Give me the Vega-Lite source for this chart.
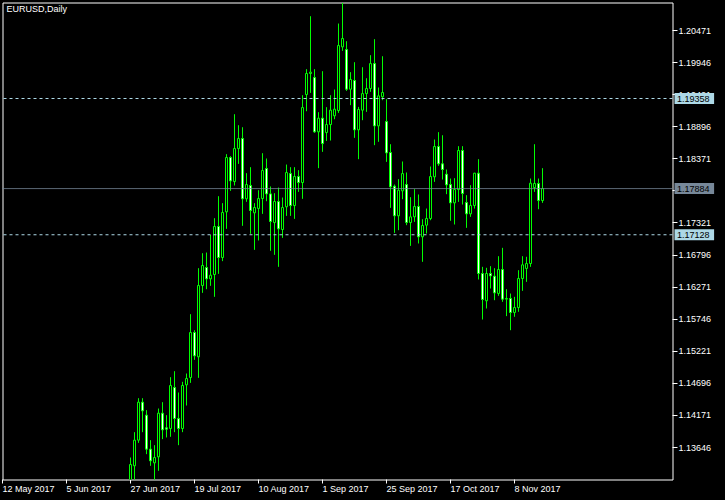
{
"$schema": "https://vega.github.io/schema/vega-lite/v6.json",
"width": 670, "height": 477,
"autosize": {"type": "none"},
"padding": {"left": 2.5, "top": 2.5, "right": 52.5, "bottom": 20.5},
"background": "black",
"title": {"text": "EURUSD,Daily", "anchor": "start", "frame": "group", "orient": "top", "offset": 0, "dy": 18, "baseline": "alphabetic", "dx": 4, "color": "white", "font": "Liberation Sans", "fontSize": 9, "fontWeight": "normal"},
"config": {
  "view": {"stroke": "white", "strokeWidth": 1},
  "scale": {"continuousPadding": 0},
  "axis": {"domain": false, "grid": false, "labelColor": "white", "tickColor": "white", "labelFont": "Liberation Sans", "labelFontSize": 9, "translate": 0, "labelOverlap": false, "labelBound": false, "labelFlush": false, "title": null}
},
"resolve": {"axis": {"x": "independent", "y": "independent"}},
"datasets": {
"candles": [
{"date":"2017-06-27","i":32,"o":1.11830,"h":1.13482,"l":1.11680,"c":1.13368},
{"date":"2017-06-28","i":33,"o":1.13346,"h":1.13897,"l":1.13120,"c":1.13766},
{"date":"2017-06-29","i":34,"o":1.13766,"h":1.14453,"l":1.13722,"c":1.14388},
{"date":"2017-06-30","i":35,"o":1.14388,"h":1.14453,"l":1.13897,"c":1.14246},
{"date":"2017-07-03","i":36,"o":1.14175,"h":1.14257,"l":1.13537,"c":1.13619},
{"date":"2017-07-04","i":37,"o":1.13619,"h":1.13766,"l":1.13346,"c":1.13428},
{"date":"2017-07-05","i":38,"o":1.13395,"h":1.13684,"l":1.13100,"c":1.13482},
{"date":"2017-07-06","i":39,"o":1.13493,"h":1.14284,"l":1.13264,"c":1.14208},
{"date":"2017-07-07","i":40,"o":1.14208,"h":1.14388,"l":1.13783,"c":1.13935},
{"date":"2017-07-10","i":41,"o":1.13968,"h":1.14175,"l":1.13810,"c":1.13946},
{"date":"2017-07-11","i":42,"o":1.13957,"h":1.14797,"l":1.13821,"c":1.14661},
{"date":"2017-07-12","i":43,"o":1.14628,"h":1.14895,"l":1.13897,"c":1.14121},
{"date":"2017-07-13","i":44,"o":1.14121,"h":1.14546,"l":1.13684,"c":1.13957},
{"date":"2017-07-14","i":45,"o":1.13957,"h":1.14721,"l":1.13897,"c":1.14661},
{"date":"2017-07-17","i":46,"o":1.14672,"h":1.14857,"l":1.14333,"c":1.14775},
{"date":"2017-07-18","i":47,"o":1.14791,"h":1.15828,"l":1.14704,"c":1.15528},
{"date":"2017-07-19","i":48,"o":1.15528,"h":1.15566,"l":1.15081,"c":1.15146},
{"date":"2017-07-20","i":49,"o":1.15130,"h":1.16581,"l":1.14786,"c":1.16297},
{"date":"2017-07-21","i":50,"o":1.16297,"h":1.16826,"l":1.16177,"c":1.16625},
{"date":"2017-07-24","i":51,"o":1.16592,"h":1.16837,"l":1.16237,"c":1.16406},
{"date":"2017-07-25","i":52,"o":1.16406,"h":1.17126,"l":1.16292,"c":1.16466},
{"date":"2017-07-26","i":53,"o":1.16477,"h":1.17399,"l":1.16112,"c":1.17263},
{"date":"2017-07-27","i":54,"o":1.17263,"h":1.17759,"l":1.16488,"c":1.16756},
{"date":"2017-07-28","i":55,"o":1.16756,"h":1.17645,"l":1.16696,"c":1.17492},
{"date":"2017-07-31","i":56,"o":1.17503,"h":1.18447,"l":1.17225,"c":1.18392},
{"date":"2017-08-01","i":57,"o":1.18392,"h":1.18414,"l":1.17847,"c":1.18010},
{"date":"2017-08-02","i":58,"o":1.17999,"h":1.19101,"l":1.17934,"c":1.18539},
{"date":"2017-08-03","i":59,"o":1.18539,"h":1.18921,"l":1.18288,"c":1.18703},
{"date":"2017-08-04","i":60,"o":1.18703,"h":1.18888,"l":1.17274,"c":1.17716},
{"date":"2017-08-07","i":61,"o":1.17716,"h":1.18136,"l":1.17667,"c":1.17950},
{"date":"2017-08-08","i":62,"o":1.17934,"h":1.18234,"l":1.17143,"c":1.17525},
{"date":"2017-08-09","i":63,"o":1.17487,"h":1.17645,"l":1.16881,"c":1.17574},
{"date":"2017-08-10","i":64,"o":1.17558,"h":1.17857,"l":1.17034,"c":1.17721},
{"date":"2017-08-11","i":65,"o":1.17721,"h":1.18463,"l":1.17470,"c":1.18179},
{"date":"2017-08-14","i":66,"o":1.18212,"h":1.18376,"l":1.17677,"c":1.17797},
{"date":"2017-08-15","i":67,"o":1.17797,"h":1.17918,"l":1.16865,"c":1.17345},
{"date":"2017-08-16","i":68,"o":1.17328,"h":1.17808,"l":1.16799,"c":1.17672},
{"date":"2017-08-17","i":69,"o":1.17672,"h":1.17901,"l":1.16603,"c":1.17225},
{"date":"2017-08-18","i":70,"o":1.17214,"h":1.17737,"l":1.17077,"c":1.17574},
{"date":"2017-08-21","i":71,"o":1.17585,"h":1.18277,"l":1.17437,"c":1.18146},
{"date":"2017-08-22","i":72,"o":1.18130,"h":1.18234,"l":1.17437,"c":1.17606},
{"date":"2017-08-23","i":73,"o":1.17606,"h":1.18234,"l":1.17388,"c":1.18081},
{"date":"2017-08-24","i":74,"o":1.18081,"h":1.18185,"l":1.17830,"c":1.17983},
{"date":"2017-08-25","i":75,"o":1.17983,"h":1.19412,"l":1.17716,"c":1.19210},
{"date":"2017-08-28","i":76,"o":1.19423,"h":1.19838,"l":1.19150,"c":1.19767},
{"date":"2017-08-29","i":77,"o":1.19767,"h":1.20705,"l":1.19450,"c":1.19789},
{"date":"2017-08-30","i":78,"o":1.19701,"h":1.19838,"l":1.18796,"c":1.18812},
{"date":"2017-08-31","i":79,"o":1.18812,"h":1.19134,"l":1.18218,"c":1.19036},
{"date":"2017-09-01","i":80,"o":1.19036,"h":1.19805,"l":1.18485,"c":1.18621},
{"date":"2017-09-04","i":81,"o":1.18801,"h":1.19216,"l":1.18664,"c":1.18932},
{"date":"2017-09-05","i":82,"o":1.18932,"h":1.19412,"l":1.18670,"c":1.19167},
{"date":"2017-09-06","i":83,"o":1.19074,"h":1.19505,"l":1.19019,"c":1.19183},
{"date":"2017-09-07","i":84,"o":1.19161,"h":1.20585,"l":1.19123,"c":1.20225},
{"date":"2017-09-08","i":85,"o":1.20203,"h":1.20923,"l":1.20138,"c":1.20340},
{"date":"2017-09-11","i":86,"o":1.20160,"h":1.20296,"l":1.19483,"c":1.19510},
{"date":"2017-09-12","i":87,"o":1.19510,"h":1.19789,"l":1.19249,"c":1.19669},
{"date":"2017-09-13","i":88,"o":1.19652,"h":1.19952,"l":1.18714,"c":1.18845},
{"date":"2017-09-14","i":89,"o":1.18845,"h":1.19221,"l":1.18365,"c":1.19178},
{"date":"2017-09-15","i":90,"o":1.19167,"h":1.19870,"l":1.19003,"c":1.19439},
{"date":"2017-09-18","i":91,"o":1.19439,"h":1.19690,"l":1.19139,"c":1.19521},
{"date":"2017-09-19","i":92,"o":1.19521,"h":1.20067,"l":1.19467,"c":1.19930},
{"date":"2017-09-20","i":93,"o":1.19930,"h":1.20329,"l":1.18594,"c":1.18910},
{"date":"2017-09-21","i":94,"o":1.18910,"h":1.19538,"l":1.18649,"c":1.19401},
{"date":"2017-09-22","i":95,"o":1.19385,"h":1.20050,"l":1.19330,"c":1.19456},
{"date":"2017-09-25","i":96,"o":1.18981,"h":1.19347,"l":1.18321,"c":1.18468},
{"date":"2017-09-26","i":97,"o":1.18474,"h":1.18610,"l":1.17568,"c":1.17912},
{"date":"2017-09-27","i":98,"o":1.17923,"h":1.17950,"l":1.17159,"c":1.17438},
{"date":"2017-09-28","i":99,"o":1.17438,"h":1.18038,"l":1.17203,"c":1.17857},
{"date":"2017-09-29","i":100,"o":1.17846,"h":1.18327,"l":1.17710,"c":1.18130},
{"date":"2017-10-02","i":101,"o":1.17950,"h":1.18147,"l":1.17285,"c":1.17328},
{"date":"2017-10-03","i":102,"o":1.17328,"h":1.17743,"l":1.16946,"c":1.17421},
{"date":"2017-10-04","i":103,"o":1.17421,"h":1.17874,"l":1.17339,"c":1.17590},
{"date":"2017-10-05","i":104,"o":1.17590,"h":1.17787,"l":1.16985,"c":1.17094},
{"date":"2017-10-06","i":105,"o":1.17094,"h":1.17383,"l":1.16685,"c":1.17279},
{"date":"2017-10-09","i":106,"o":1.17285,"h":1.17557,"l":1.17148,"c":1.17394},
{"date":"2017-10-10","i":107,"o":1.17394,"h":1.18245,"l":1.17366,"c":1.18081},
{"date":"2017-10-11","i":108,"o":1.18076,"h":1.18687,"l":1.17994,"c":1.18572},
{"date":"2017-10-12","i":109,"o":1.18572,"h":1.18807,"l":1.18256,"c":1.18289},
{"date":"2017-10-13","i":110,"o":1.18289,"h":1.18757,"l":1.18032,"c":1.18196},
{"date":"2017-10-16","i":111,"o":1.18119,"h":1.18196,"l":1.17792,"c":1.17945},
{"date":"2017-10-17","i":112,"o":1.17950,"h":1.18048,"l":1.17356,"c":1.17650},
{"date":"2017-10-18","i":113,"o":1.17650,"h":1.18054,"l":1.17296,"c":1.17868},
{"date":"2017-10-19","i":114,"o":1.17868,"h":1.18578,"l":1.17666,"c":1.18507},
{"date":"2017-10-20","i":115,"o":1.18507,"h":1.18578,"l":1.17623,"c":1.17803},
{"date":"2017-10-23","i":116,"o":1.17656,"h":1.17776,"l":1.17241,"c":1.17470},
{"date":"2017-10-24","i":117,"o":1.17470,"h":1.17939,"l":1.17421,"c":1.17607},
{"date":"2017-10-25","i":118,"o":1.17607,"h":1.18141,"l":1.17557,"c":1.18136},
{"date":"2017-10-26","i":119,"o":1.18136,"h":1.18365,"l":1.16396,"c":1.16494},
{"date":"2017-10-27","i":120,"o":1.16494,"h":1.16603,"l":1.15741,"c":1.16069},
{"date":"2017-10-30","i":121,"o":1.16047,"h":1.16587,"l":1.15921,"c":1.16494},
{"date":"2017-10-31","i":122,"o":1.16494,"h":1.16614,"l":1.16248,"c":1.16455},
{"date":"2017-11-01","i":123,"o":1.16450,"h":1.16581,"l":1.16057,"c":1.16177},
{"date":"2017-11-02","i":124,"o":1.16167,"h":1.16777,"l":1.16128,"c":1.16559},
{"date":"2017-11-03","i":125,"o":1.16559,"h":1.16914,"l":1.16030,"c":1.16074},
{"date":"2017-11-06","i":126,"o":1.16074,"h":1.16237,"l":1.15796,"c":1.16085},
{"date":"2017-11-07","i":127,"o":1.16085,"h":1.16166,"l":1.15566,"c":1.15856},
{"date":"2017-11-08","i":128,"o":1.15856,"h":1.16112,"l":1.15785,"c":1.15937},
{"date":"2017-11-09","i":129,"o":1.15937,"h":1.16548,"l":1.15867,"c":1.16412},
{"date":"2017-11-10","i":130,"o":1.16412,"h":1.16777,"l":1.16210,"c":1.16636},
{"date":"2017-11-13","i":131,"o":1.16576,"h":1.16767,"l":1.16357,"c":1.16657},
{"date":"2017-11-14","i":132,"o":1.16657,"h":1.18048,"l":1.16603,"c":1.17972},
{"date":"2017-11-15","i":133,"o":1.17901,"h":1.18610,"l":1.17830,"c":1.17967},
{"date":"2017-11-16","i":134,"o":1.17967,"h":1.18048,"l":1.17546,"c":1.17688},
{"date":"2017-11-17","i":135,"o":1.17688,"h":1.18218,"l":1.17650,"c":1.17884}
],
"levels": [
{"v": 1.19358, "kind": "level"},
{"v": 1.17884, "kind": "bid"},
{"v": 1.17128, "kind": "level"}
]
},
"layer": [
{
  "data": {"name": "candles"},
  "mark": {"type": "rule", "color": "#00ff00", "strokeWidth": 1, "clip": true},
  "encoding": {
    "x": {"field": "i", "type": "quantitative",
      "scale": {"domain": [0, 167.5], "nice": false, "zero": false, "padding": 0},
      "axis": {"orient": "bottom", "title": null, "values": [0,16,32,48,64,80,96,112,128], "tickSize": 4, "labelAlign": "left", "labelBaseline": "top", "labelPadding": 1, "labelFlush": false, "labelOverlap": false, "labelBound": false,
        "labelExpr": "['12 May 2017','5 Jun 2017','27 Jun 2017','19 Jul 2017','10 Aug 2017','1 Sep 2017','25 Sep 2017','17 Oct 2017','8 Nov 2017'][round(datum.value/16)]"}},
    "y": {"field": "l", "type": "quantitative",
      "scale": {"domain": [1.131223, 1.209293], "nice": false, "zero": false, "padding": 0},
      "axis": {"orient": "right", "title": null, "values": [1.13646,1.14171,1.14696,1.15221,1.15746,1.16271,1.16796,1.17321,1.17846,1.18371,1.18896,1.19421,1.19946,1.20471], "format": ".5f", "tickSize": 5, "labelPadding": 1, "labelAlign": "left", "labelBaseline": "middle", "labelOverlap": false, "labelFlush": false, "labelBound": false}},
    "y2": {"field": "h"}
  }
},
{
  "data": {"name": "candles"},
  "mark": {"type": "bar", "size": 2, "stroke": "#00ff00", "strokeWidth": 1, "clip": true, "orient": "vertical"},
  "encoding": {
    "x": {"field": "i", "type": "quantitative", "scale": {"domain": [0, 167.5], "nice": false, "zero": false, "padding": 0}, "axis": null},
    "y": {"field": "o", "type": "quantitative", "scale": {"domain": [1.131223, 1.209293], "nice": false, "zero": false, "padding": 0}, "axis": null},
    "y2": {"field": "c"},
    "fill": {"condition": {"test": "datum.c < datum.o", "value": "white"}, "value": "black"}
  }
},
{
  "data": {"name": "levels"},
  "mark": {"type": "rule", "strokeWidth": 1},
  "encoding": {
    "y": {"field": "v", "type": "quantitative", "scale": {"domain": [1.131223, 1.209293], "nice": false, "zero": false, "padding": 0}, "axis": null},
    "color": {"field": "kind", "type": "nominal", "scale": {"domain": ["level", "bid"], "range": ["#add8e6", "#778899"]}, "legend": null},
    "strokeDash": {"field": "kind", "type": "nominal", "scale": {"domain": ["level", "bid"], "range": [[3, 3], [1, 0]]}, "legend": null}
  }
},
{
  "data": {"name": "levels"},
  "mark": {"type": "bar", "size": 11, "orient": "horizontal"},
  "encoding": {
    "x": {"datum": 168, "type": "quantitative", "scale": {"domain": [0, 167.5], "nice": false, "zero": false, "padding": 0}, "axis": null},
    "x2": {"datum": 177.9},
    "y": {"field": "v", "type": "quantitative", "scale": {"domain": [1.131223, 1.209293], "nice": false, "zero": false, "padding": 0}, "axis": null},
    "color": {"field": "kind", "type": "nominal", "legend": null}
  }
},
{
  "data": {"name": "levels"},
  "mark": {"type": "text", "align": "left", "baseline": "middle", "color": "black", "font": "Liberation Sans", "fontSize": 9, "dy": 0.5},
  "encoding": {
    "x": {"datum": 168.6, "type": "quantitative", "scale": {"domain": [0, 167.5], "nice": false, "zero": false, "padding": 0}, "axis": null},
    "y": {"field": "v", "type": "quantitative", "scale": {"domain": [1.131223, 1.209293], "nice": false, "zero": false, "padding": 0}, "axis": null},
    "text": {"field": "v", "type": "quantitative", "format": ".5f"}
  }
}
]
}
